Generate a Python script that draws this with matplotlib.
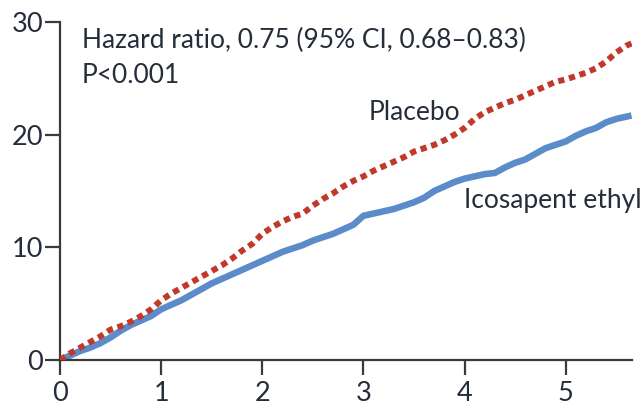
import matplotlib
matplotlib.use("Agg")
import matplotlib.pyplot as plt

# ---- data (years, cumulative incidence %) ----
placebo_t = [0.0, 0.1, 0.2, 0.3, 0.4, 0.5, 0.6, 0.7, 0.8, 0.9, 1.0, 1.1, 1.2, 1.3, 1.4,
             1.5, 1.6, 1.7, 1.8, 1.9, 2.0, 2.1, 2.2, 2.3, 2.4, 2.5, 2.6, 2.7, 2.8, 2.9,
             3.0, 3.1, 3.2, 3.3, 3.4, 3.5, 3.6, 3.7, 3.8, 3.9, 4.0, 4.1, 4.2, 4.3, 4.4,
             4.5, 4.6, 4.7, 4.8, 4.9, 5.0, 5.1, 5.2, 5.3, 5.4, 5.5, 5.6, 5.65]
placebo_v = [0.0, 0.6, 1.1, 1.6, 2.1, 2.7, 3.0, 3.4, 3.9, 4.5, 5.3, 5.9, 6.4, 6.9, 7.4,
             7.9, 8.4, 9.0, 9.7, 10.3, 11.2, 11.8, 12.3, 12.7, 13.0, 13.7, 14.3, 14.8, 15.4, 15.9,
             16.3, 16.8, 17.2, 17.6, 18.0, 18.5, 18.8, 19.1, 19.5, 20.0, 20.6, 21.4, 22.0, 22.4, 22.8,
             23.1, 23.5, 23.9, 24.3, 24.7, 24.9, 25.2, 25.5, 25.9, 26.5, 27.3, 27.9, 28.1]

icosa_t = [0.0, 0.1, 0.2, 0.3, 0.4, 0.5, 0.6, 0.7, 0.8, 0.9, 1.0, 1.1, 1.2, 1.3, 1.4,
           1.5, 1.6, 1.7, 1.8, 1.9, 2.0, 2.1, 2.2, 2.3, 2.4, 2.5, 2.6, 2.7, 2.8, 2.9,
           3.0, 3.1, 3.2, 3.3, 3.4, 3.5, 3.6, 3.7, 3.8, 3.9, 4.0, 4.1, 4.2, 4.3, 4.4,
           4.5, 4.6, 4.7, 4.8, 4.9, 5.0, 5.1, 5.2, 5.3, 5.4, 5.5, 5.6, 5.65]
icosa_v = [0.0, 0.4, 0.8, 1.1, 1.5, 2.0, 2.6, 3.1, 3.5, 3.9, 4.5, 4.9, 5.3, 5.8, 6.3,
           6.8, 7.2, 7.6, 8.0, 8.4, 8.8, 9.2, 9.6, 9.9, 10.2, 10.6, 10.9, 11.2, 11.6, 12.0,
           12.8, 13.0, 13.2, 13.4, 13.7, 14.0, 14.4, 15.0, 15.4, 15.8, 16.1, 16.3, 16.5, 16.6, 17.1,
           17.5, 17.8, 18.3, 18.8, 19.1, 19.4, 19.9, 20.3, 20.6, 21.1, 21.4, 21.6, 21.7]

x_ticks = [0, 1, 2, 3, 4, 5]
y_ticks = [0, 10, 20, 30]

hr_text = "Hazard ratio, 0.75 (95% CI, 0.68\u20130.83)"
p_text = "P<0.001"
placebo_label = "Placebo"
icosa_label = "Icosapent ethyl"

# ---- style ----
TEXT = "#262d3a"
RED = "#c0392b"
BLUE = "#5b8bc9"
plt.rcParams['font.family'] = ['Lato', 'DejaVu Sans']

fig = plt.figure(figsize=(6.41, 4.20), dpi=100)
ax = fig.add_axes([60 / 641, 60 / 420, (631.5 - 60) / 641, (360 - 22) / 420])

ax.plot(icosa_t, icosa_v, color=BLUE, lw=4.7, solid_capstyle='butt', zorder=2)
ax.plot(placebo_t, placebo_v, color=RED, lw=4.3, linestyle=(0, (1.05, 0.8)),
        dash_capstyle='butt', zorder=3)

ax.set_xlim(0, 5.65)
ax.set_ylim(0, 30)
ax.set_xticks(x_ticks)
ax.set_yticks(y_ticks)
ax.set_xticklabels([str(v) for v in x_ticks])
ax.set_yticklabels([str(v) for v in y_ticks])

for s in ['top', 'right']:
    ax.spines[s].set_visible(False)
for s in ['left', 'bottom']:
    ax.spines[s].set_color('#3a3a3a')
    ax.spines[s].set_linewidth(1.6)
ax.tick_params(axis='both', direction='out', length=10.8, width=1.6, color='#3a3a3a',
               labelsize=19.5, labelcolor=TEXT)
ax.tick_params(axis='x', pad=4.5)
ax.tick_params(axis='y', pad=1.5)

FS = 19
ax.text(0.217, 27.66, hr_text, fontsize=FS, color=TEXT, ha='left', va='baseline')
ax.text(0.217, 24.56, p_text, fontsize=FS, color=TEXT, ha='left', va='baseline')
ax.text(3.05, 21.3, placebo_label, fontsize=FS, color=TEXT, ha='left', va='baseline')
ax.text(3.99, 13.45, icosa_label, fontsize=FS, color=TEXT, ha='left', va='baseline',
        clip_on=False)

fig.savefig("out.png", dpi=100)
